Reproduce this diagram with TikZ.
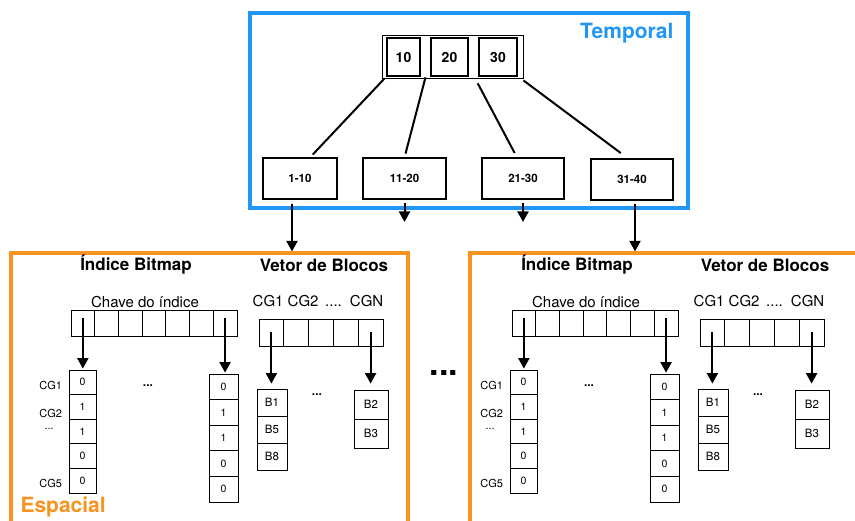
\documentclass[tikz,border=0pt]{standalone}
\usepackage{fontspec}
\setmainfont{TeX Gyre Heros}
\usetikzlibrary{arrows.meta,calc}
\definecolor{tblue}{RGB}{33,150,243}
\definecolor{torange}{RGB}{247,147,30}
\tikzset{
  conn/.style={line width=2pt},
  arr/.style={line width=2pt,-{Triangle[width=11pt,length=10.5pt]}},
  cellbox/.style={draw,line width=0.8pt,inner sep=0pt,font=\fontsize{10.5}{12}\selectfont},
  bcell/.style={cellbox,font=\fontsize{11.5}{13}\selectfont},
  leafbox/.style={draw,line width=1.1pt,minimum height=41pt,inner sep=0pt,font=\bfseries\fontsize{11.5}{13}\selectfont},
  keybox/.style={draw,line width=2.6pt,minimum height=38pt,inner sep=0pt,font=\bfseries\fontsize{14}{16}\selectfont},
  title/.style={font=\bfseries\fontsize{17}{20}\selectfont},
  lbl/.style={font=\fontsize{15}{18}\selectfont},
  cglbl/.style={font=\fontsize{11}{13}\selectfont},
  frame/.style={draw,line width=3.2pt,inner sep=0pt},
}
\begin{document}
\begin{tikzpicture}[x=1pt,y=-1pt]
\useasboundingbox (0,0) rectangle (855,521);
\clip (0,0) rectangle (855,521);

% Temporal frame
\node[frame,draw=tblue,minimum width=438pt,minimum height=195pt] (temporal) at (469,110.5) {};
\node[anchor=east,text=tblue,font=\bfseries\fontsize{21}{24}\selectfont] (ttl) at (677,33) {Temporal};

% root node
\node[draw,line width=0.9pt,minimum width=141pt,minimum height=43pt] (root) at (452.5,56.5) {};
\node[keybox,minimum width=33pt] (n10) at (403.5,57) {10};
\node[keybox,minimum width=37pt] (n20) at (449.5,57) {20};
\node[keybox,minimum width=38pt] (n30) at (498,57) {30};

% leaves
\node[leafbox,minimum width=74pt] (l1) at (300,178.5) {1-10};
\node[leafbox,minimum width=83pt] (l2) at (404.5,178.5) {11-20};
\node[leafbox,minimum width=82pt] (l3) at (523,178.5) {21-30};
\node[leafbox,minimum width=82pt] (l4) at (632,179.5) {31-40};

\draw[conn,shorten >=4pt] ([xshift=3pt]root.south west) -- ([xshift=10pt]l1.north);
\draw[conn,shorten >=4pt] ($(n10.south east)!.5!(n20.south west)$) -- (l2.north);
\draw[conn,shorten >=5pt] ([yshift=-6pt]n30.south west) -- ([xshift=-6pt]l3.north);
\draw[conn,shorten >=9pt] ([yshift=-2pt]root.south east) -- ([xshift=-4pt]l4.north);

% spatial frames
\node[frame,draw=torange,minimum width=397pt,minimum height=307pt] (sp1) at (209.5,406.5) {};
\node[frame,draw=torange,minimum width=430pt,minimum height=307pt] (sp2) at (685,406.5) {};
\node[anchor=west,text=torange,font=\bfseries\fontsize{21}{24}\selectfont] (esp) at (17,507) {Espacial};

% arrows from leaves
\coordinate (a1s) at ([xshift=-8pt,yshift=-4pt]l1.south);
\draw[arr] (a1s) -- (a1s |- sp1.north);
\coordinate (a2e) at (l2.south |- 0,222);
\draw[arr] ([yshift=-3pt]l2.south) -- (a2e);
\coordinate (a3e) at (l3.south |- 0,222);
\draw[arr] ([yshift=-3pt]l3.south) -- (a3e);
\coordinate (a4s) at ([xshift=3pt,yshift=-3pt]l4.south);
\draw[arr] (a4s) -- (a4s |- sp2.north);

% big dots between panels
\node[font=\bfseries\fontsize{34}{36}\selectfont] (bigdots) at (444,373) {...};

% panels
\foreach \p/\dx in {1/0,2/441}{
\begin{scope}[xshift=\dx pt]
  \node[title] (tb\p) at (136,265) {Índice Bitmap};
  \node[title] (tv\p) at (324,265) {Vetor de Blocos};
  \node[lbl] (ck\p) at (145,302) {Chave do índice};
  \node[lbl] (cg\p) at (318,301) {CG1 CG2 \,....\, CGN};
  \foreach \i in {1,...,7}
    \node[cellbox,minimum width=23.7pt,minimum height=26pt] (k\p-\i) at ({71+23.7*(\i-0.5)},323) {};
  \foreach \i in {1,...,5}
    \node[cellbox,minimum width=24.8pt,minimum height=27pt] (v\p-\i) at ({259+24.8*(\i-0.5)},332.5) {};
  \foreach \v [count=\i] in {0,1,1,0,0}
    \node[cellbox,minimum width=27pt,minimum height=24.6pt] (ba\p-\i) at (82.5,{370+24.6*(\i-0.5)}) {\v};
  \foreach \v [count=\i] in {0,1,1,0,0}
    \node[cellbox,minimum width=29pt,minimum height=25.6pt] (bb\p-\i) at (223.5,{374+25.6*(\i-0.5)}) {\v};
  \foreach \v [count=\i] in {B1,B5,B8}
    \node[bcell,minimum width=30pt,minimum height=27pt] (ca\p-\i) at (272,{389+27*(\i-0.5)}) {\v};
  \foreach \v [count=\i] in {B2,B3}
    \node[bcell,minimum width=34pt,minimum height=29pt] (cb\p-\i) at (371,{390+29*(\i-0.5)}) {\v};
  \node[cglbl,anchor=east] (g1\p) at (65.5,385.5) {CG1};
  \node[cglbl,anchor=east] (g2\p) at (65.5,413) {CG2};
  \node[cglbl,anchor=west] (g3\p) at (41,429) {...};
  \node[cglbl,anchor=east] (g5\p) at (65.5,483) {CG5};
  \node[font=\bfseries\fontsize{12}{14}\selectfont] (d1\p) at (148,386) {...};
  \node[font=\bfseries\fontsize{12}{14}\selectfont] (d2\p) at (317,395) {...};
  \draw[arr,shorten >=1pt] ([yshift=5pt]k\p-1.center) -- (k\p-1.center |- ba\p-1.north);
  \draw[arr,shorten >=1pt] ([yshift=5pt]k\p-7.center) -- (k\p-7.center |- bb\p-1.north);
  \draw[arr,shorten >=5pt] (v\p-1.center) -- (v\p-1.center |- ca\p-1.north);
  \draw[arr,shorten >=6pt] (v\p-5.center) -- (v\p-5.center |- cb\p-1.north);
\end{scope}
}
\end{tikzpicture}
\end{document}
